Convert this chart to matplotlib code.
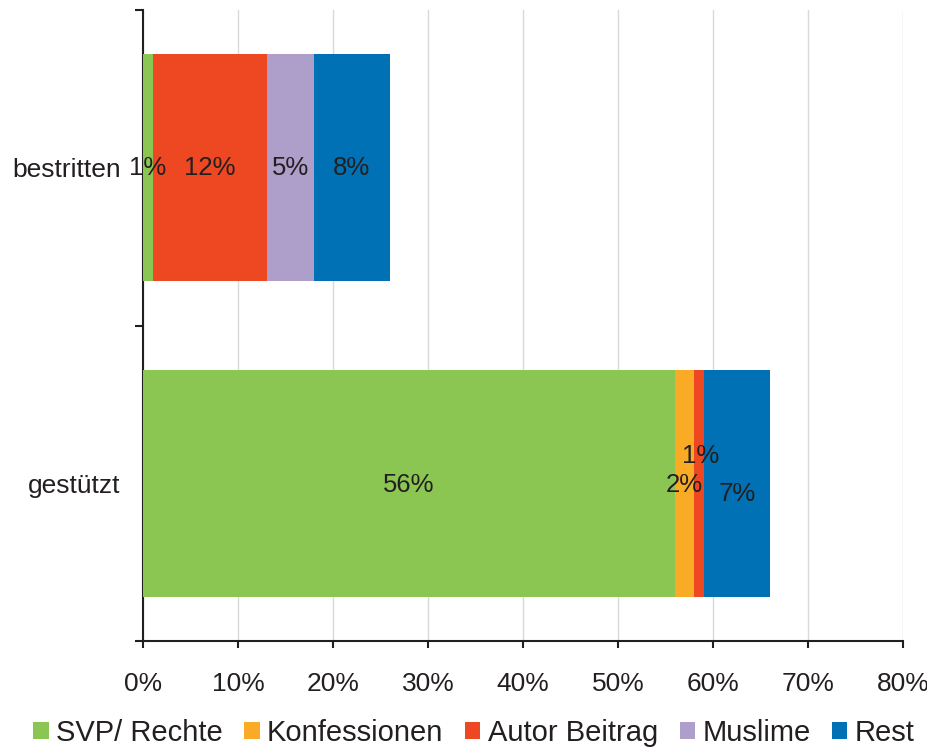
import matplotlib
matplotlib.use("Agg")
import matplotlib.pyplot as plt
import numpy as np

categories = ["gestützt", "bestritten"]
series_names = ["SVP/ Rechte", "Konfessionen", "Autor Beitrag", "Muslime", "Rest"]
colors = ["#8BC653", "#FAAB26", "#EE4823", "#AD9FCA", "#0071B5"]
values = {
    "SVP/ Rechte":   [56, 1],
    "Konfessionen":  [2, 0],
    "Autor Beitrag": [1, 12],
    "Muslime":       [0, 5],
    "Rest":          [7, 8],
}
xticks = [0, 10, 20, 30, 40, 50, 60, 70, 80]
xtick_labels = [f"{v}%" for v in xticks]

plt.rcParams['font.family'] = ['Liberation Sans', 'DejaVu Sans']
FS = 19
FS_LAB = 18.5
FS_LEG = 21
TXT = "#231F20"

fig = plt.figure(figsize=(9.28, 7.5), dpi=100)
ax = fig.add_axes([143/928, 1-641/750, (903-143)/928, (641-10)/750])

y = np.arange(len(categories))
left = np.zeros(len(categories))
bar_h = 0.72
# label offsets in points (x, y) to mimic the overlapping-label placement
offsets = {
    ("Autor Beitrag", 0): (1.5, 19.5),
    ("Konfessionen", 0): (0, -1.5),
    ("Rest", 0): (0, -7.5),
    ("SVP/ Rechte", 0): (0, -1.5),
}
for name, col in zip(series_names, colors):
    vals = np.array(values[name], dtype=float)
    ax.barh(y, vals, left=left, height=bar_h, color=col, label=name, zorder=3)
    for i, v in enumerate(vals):
        if v > 0:
            dx, dy = offsets.get((name, i), (0, -0.5))
            ax.annotate(f"{int(v)}%", (left[i] + v/2, y[i]), xytext=(dx, dy),
                        textcoords="offset points", ha="center", va="center",
                        fontsize=FS_LAB, color=TXT, zorder=5)
    left += vals

ax.set_xlim(0, 80)
ax.set_ylim(-0.5, 1.5)
ax.set_xticks(xticks)
ax.set_xticklabels(xtick_labels, fontsize=FS, color=TXT)
ax.tick_params(axis="x", length=5, width=1.5, pad=17.5, color=TXT)
ax.xaxis.grid(True, color="#D9D9D9", linewidth=1, zorder=0)

ax.set_yticks([-0.5, 0.5, 1.5])
ax.set_yticklabels([])
ax.set_yticks(y, minor=True)
ax.set_yticklabels(categories, minor=True, fontsize=FS, color=TXT)
ax.tick_params(axis="y", which="major", length=6, width=1.5, color=TXT)
ax.tick_params(axis="y", which="minor", length=0, pad=16)

for s in ["top", "right"]:
    ax.spines[s].set_visible(False)
for s in ["left", "bottom"]:
    ax.spines[s].set_linewidth(1.5)
    ax.spines[s].set_color(TXT)

leg = fig.legend(loc="center", bbox_to_anchor=(474/928, 1-733/750), ncol=5, frameon=False,
                 fontsize=FS_LEG, handlelength=0.52, handleheight=0.52, handletextpad=0.25,
                 columnspacing=0.75, borderaxespad=0.0, borderpad=0.0)
for t in leg.get_texts():
    t.set_color(TXT)

fig.savefig("out.png", dpi=100)
